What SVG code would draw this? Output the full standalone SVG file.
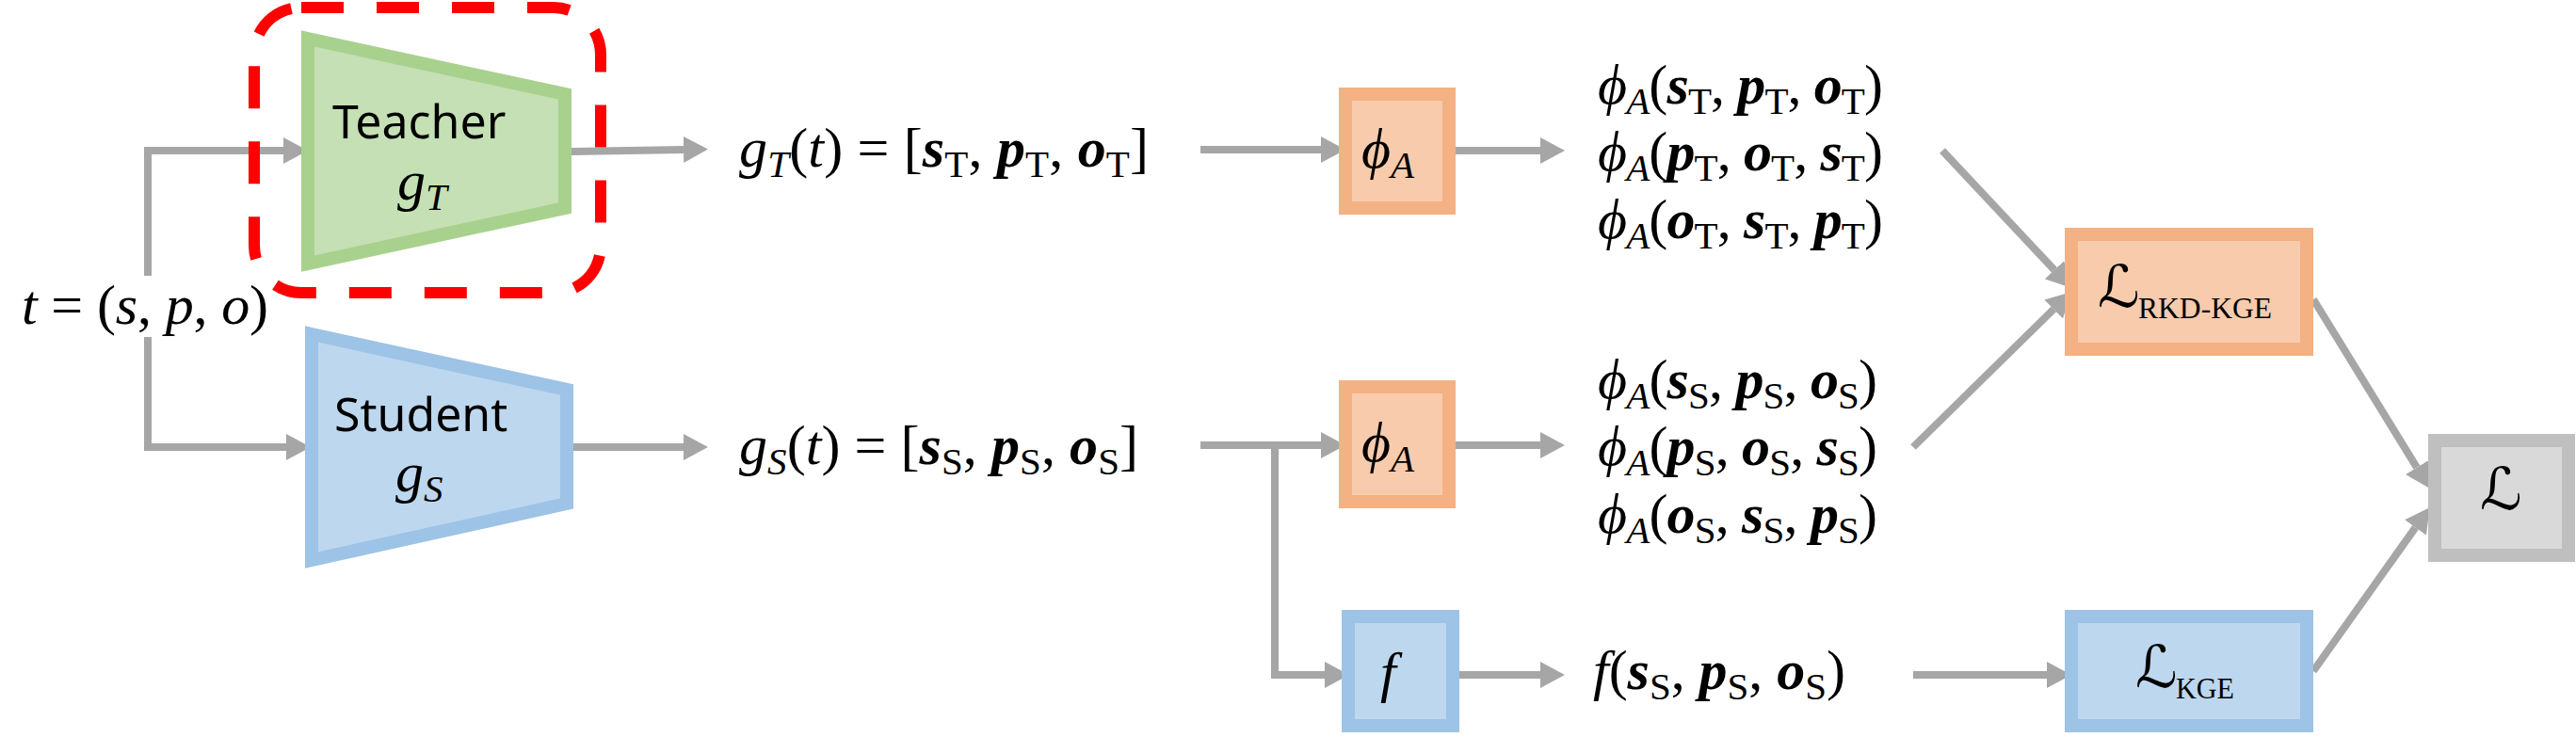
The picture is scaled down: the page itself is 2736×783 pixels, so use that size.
<svg xmlns="http://www.w3.org/2000/svg" width="2736" height="783" viewBox="0 0 2736 783">
<defs>
<style>
.m{font-family:"Liberation Serif","DejaVu Serif",serif;font-size:60px;fill:#000}
.i{font-style:italic}
.b{font-weight:bold;font-style:italic}
.sub{font-size:41px}
.sans{font-family:"Noto Sans","Open Sans","DejaVu Sans",sans-serif;font-size:50px;fill:#000}
.L{font-family:"DejaVu Serif","DejaVu Sans",serif;font-style:italic;font-size:62px}
.Ls{font-family:"Liberation Serif",serif;font-style:normal;font-size:32px}
.conn{fill:none;stroke:#A6A6A6;stroke-width:8;stroke-linejoin:miter}
.org{fill:#F8CBAD;stroke:#F4B183;stroke-width:14}
.blu{fill:#BDD7EE;stroke:#9DC3E6;stroke-width:14}
.grn{fill:#C5E0B4;stroke:#A9D18E;stroke-width:14}
.gry{fill:#D9D9D9;stroke:#BFBFBF;stroke-width:14}
</style>
<marker id="ah" markerUnits="userSpaceOnUse" markerWidth="26" markerHeight="28" refX="0" refY="14" orient="auto" viewBox="0 0 26 28">
<path d="M0,0 L26,14 L0,28 Z" fill="#A6A6A6"/>
</marker>
</defs>
<rect width="2736" height="783" fill="#fff"/>

<g id="connectors">
<path class="conn" d="M157,293 V160 H301" marker-end="url(#ah)"/>
<path class="conn" d="M157,358 V475 H304" marker-end="url(#ah)"/>
<path class="conn" d="M607,161 L726,159" marker-end="url(#ah)"/>
<path class="conn" d="M609,475 H726" marker-end="url(#ah)"/>
<path class="conn" d="M1275,159 H1403" marker-end="url(#ah)"/>
<path class="conn" d="M1275,473 H1403" marker-end="url(#ah)"/>
<path class="conn" d="M1354,473 V717 H1407" marker-end="url(#ah)"/>
<path class="conn" d="M1546,160 H1636" marker-end="url(#ah)"/>
<path class="conn" d="M1546,473 H1636" marker-end="url(#ah)"/>
<path class="conn" d="M1550,717 H1636" marker-end="url(#ah)"/>
<path class="conn" d="M2063,160 L2181.9,286.8" marker-end="url(#ah)"/>
<path class="conn" d="M2032,475 L2181.2,328.5" marker-end="url(#ah)"/>
<path class="conn" d="M2032,717 H2174" marker-end="url(#ah)"/>
<path class="conn" d="M2457,318 L2566.9,496.7" marker-end="url(#ah)"/>
<path class="conn" d="M2457,713 L2565.5,560.4" marker-end="url(#ah)"/>
</g>

<g id="input">
<text class="m" x="23" y="344" textLength="262" lengthAdjust="spacing"><tspan class="i">t</tspan> = (<tspan class="i">s</tspan>, <tspan class="i">p</tspan>, <tspan class="i">o</tspan>)</text>
</g>

<g id="teacher">
<path class="grn" d="M327,41 L600,100 L600,221 L327,280 Z"/>
<text class="sans" x="353" y="147">Teacher</text>
<text class="m i" x="422" y="212">g<tspan class="sub" dy="11">T</tspan></text>
</g>

<g id="student">
<path class="blu" d="M331,355 L602,414 L602,535 L331,595 Z"/>
<text class="sans" x="355" y="458">Student</text>
<text class="m i" x="420" y="522">g<tspan class="sub" dy="11">S</tspan></text>
</g>

<g id="highlight">
<rect x="270" y="8" width="368" height="303" rx="50" ry="50" fill="none" stroke="#FF0000" stroke-width="12" stroke-dasharray="45 35"/>
</g>

<g id="gT">
<text class="m" x="785" y="177" textLength="435" lengthAdjust="spacing"><tspan class="i">g</tspan><tspan class="i sub" dy="11">T</tspan><tspan dy="-11">(</tspan><tspan class="i">t</tspan>) = [<tspan class="b">s</tspan><tspan class="sub" dy="11">T</tspan><tspan dy="-11">, </tspan><tspan class="b">p</tspan><tspan class="sub" dy="11">T</tspan><tspan dy="-11">, </tspan><tspan class="b">o</tspan><tspan class="sub" dy="11">T</tspan><tspan dy="-11">]</tspan></text>
</g>

<g id="gS">
<text class="m" x="785" y="493" textLength="424" lengthAdjust="spacing"><tspan class="i">g</tspan><tspan class="i sub" dy="11">S</tspan><tspan dy="-11">(</tspan><tspan class="i">t</tspan>) = [<tspan class="b">s</tspan><tspan class="sub" dy="11">S</tspan><tspan dy="-11">, </tspan><tspan class="b">p</tspan><tspan class="sub" dy="11">S</tspan><tspan dy="-11">, </tspan><tspan class="b">o</tspan><tspan class="sub" dy="11">S</tspan><tspan dy="-11">]</tspan></text>
</g>

<g id="phiA_T">
<rect class="org" x="1429" y="100" width="110" height="121"/>
<text class="m i" x="1446" y="178">ϕ<tspan class="sub" dy="11">A</tspan></text>
</g>

<g id="phiA_S">
<rect class="org" x="1429" y="411" width="110" height="122"/>
<text class="m i" x="1446" y="490">ϕ<tspan class="sub" dy="11">A</tspan></text>
</g>

<g id="f">
<rect class="blu" x="1432" y="655" width="111" height="116"/>
<text class="m i" x="1466" y="734">f</text>
</g>

<g id="phiT_out">
<text class="m" x="1697" y="110" textLength="303" lengthAdjust="spacing"><tspan class="i">ϕ</tspan><tspan class="i sub" dy="11">A</tspan><tspan dy="-11">(</tspan><tspan class="b">s</tspan><tspan class="sub" dy="11">T</tspan><tspan dy="-11">, </tspan><tspan class="b">p</tspan><tspan class="sub" dy="11">T</tspan><tspan dy="-11">, </tspan><tspan class="b">o</tspan><tspan class="sub" dy="11">T</tspan><tspan dy="-11">)</tspan></text>
<text class="m" x="1697" y="181" textLength="303" lengthAdjust="spacing"><tspan class="i">ϕ</tspan><tspan class="i sub" dy="11">A</tspan><tspan dy="-11">(</tspan><tspan class="b">p</tspan><tspan class="sub" dy="11">T</tspan><tspan dy="-11">, </tspan><tspan class="b">o</tspan><tspan class="sub" dy="11">T</tspan><tspan dy="-11">, </tspan><tspan class="b">s</tspan><tspan class="sub" dy="11">T</tspan><tspan dy="-11">)</tspan></text>
<text class="m" x="1697" y="253" textLength="303" lengthAdjust="spacing"><tspan class="i">ϕ</tspan><tspan class="i sub" dy="11">A</tspan><tspan dy="-11">(</tspan><tspan class="b">o</tspan><tspan class="sub" dy="11">T</tspan><tspan dy="-11">, </tspan><tspan class="b">s</tspan><tspan class="sub" dy="11">T</tspan><tspan dy="-11">, </tspan><tspan class="b">p</tspan><tspan class="sub" dy="11">T</tspan><tspan dy="-11">)</tspan></text>
</g>

<g id="phiS_out">
<text class="m" x="1697" y="423" textLength="297" lengthAdjust="spacing"><tspan class="i">ϕ</tspan><tspan class="i sub" dy="11">A</tspan><tspan dy="-11">(</tspan><tspan class="b">s</tspan><tspan class="sub" dy="11">S</tspan><tspan dy="-11">, </tspan><tspan class="b">p</tspan><tspan class="sub" dy="11">S</tspan><tspan dy="-11">, </tspan><tspan class="b">o</tspan><tspan class="sub" dy="11">S</tspan><tspan dy="-11">)</tspan></text>
<text class="m" x="1697" y="494" textLength="297" lengthAdjust="spacing"><tspan class="i">ϕ</tspan><tspan class="i sub" dy="11">A</tspan><tspan dy="-11">(</tspan><tspan class="b">p</tspan><tspan class="sub" dy="11">S</tspan><tspan dy="-11">, </tspan><tspan class="b">o</tspan><tspan class="sub" dy="11">S</tspan><tspan dy="-11">, </tspan><tspan class="b">s</tspan><tspan class="sub" dy="11">S</tspan><tspan dy="-11">)</tspan></text>
<text class="m" x="1697" y="566" textLength="297" lengthAdjust="spacing"><tspan class="i">ϕ</tspan><tspan class="i sub" dy="11">A</tspan><tspan dy="-11">(</tspan><tspan class="b">o</tspan><tspan class="sub" dy="11">S</tspan><tspan dy="-11">, </tspan><tspan class="b">s</tspan><tspan class="sub" dy="11">S</tspan><tspan dy="-11">, </tspan><tspan class="b">p</tspan><tspan class="sub" dy="11">S</tspan><tspan dy="-11">)</tspan></text>
</g>

<g id="f_out">
<text class="m" x="1692" y="732" textLength="268" lengthAdjust="spacing"><tspan class="i">f</tspan>(<tspan class="b">s</tspan><tspan class="sub" dy="11">S</tspan><tspan dy="-11">, </tspan><tspan class="b">p</tspan><tspan class="sub" dy="11">S</tspan><tspan dy="-11">, </tspan><tspan class="b">o</tspan><tspan class="sub" dy="11">S</tspan><tspan dy="-11">)</tspan></text>
</g>

<g id="L_RKD">
<rect class="org" x="2200" y="249" width="250" height="122"/>
<text class="L" x="2228" y="326">ℒ</text>
<text class="Ls" x="2271" y="338" textLength="142" lengthAdjust="spacingAndGlyphs">RKD-KGE</text>
</g>

<g id="L_KGE">
<rect class="blu" x="2200" y="655" width="250" height="116"/>
<text class="L" x="2268" y="730">ℒ</text>
<text class="Ls" x="2311" y="742" textLength="62" lengthAdjust="spacingAndGlyphs">KGE</text>
</g>

<g id="L_total">
<rect class="gry" x="2586" y="468" width="142" height="122"/>
<text class="L" x="2634" y="541">ℒ</text>
</g>
</svg>
